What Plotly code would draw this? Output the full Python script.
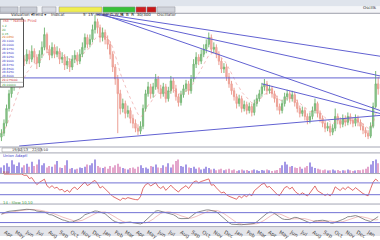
import pandas as pd
import plotly.graph_objects as go

# ---------------- data ----------------
dates = pd.date_range("2010-03-22", periods=150, freq="W-MON")

opens = [20.5,20.9,21.9,23.4,24.9,25.6,26.4,27.2,27.9,28.4,
         28.2,28.9,28.4,29.2,28.6,28.0,28.9,29.6,30.9,29.4,
         28.8,29.6,28.9,29.2,28.4,28.6,27.8,28.2,27.6,28.4,
         28.8,28.2,28.9,29.6,30.6,29.9,30.4,31.4,32.2,31.6,
         30.6,31.1,30.4,29.9,28.9,27.6,26.4,24.9,23.4,23.9,
         22.9,23.2,22.4,21.9,21.4,21.1,21.6,23.4,24.9,25.6,
         24.9,25.6,26.4,25.4,24.9,25.6,24.4,25.2,26.2,25.4,
         24.6,24.0,24.8,25.4,25.9,25.2,26.4,27.9,28.6,28.2,
         28.9,29.4,29.9,30.6,29.4,29.6,28.9,28.2,27.4,27.6,
         26.6,25.9,25.2,24.6,23.9,24.4,23.4,23.8,23.2,23.6,
         23.0,23.9,24.4,24.9,25.6,25.9,25.2,25.4,24.9,24.4,
         23.6,23.2,23.9,24.6,24.9,24.4,24.8,24.0,23.4,22.9,
         23.2,22.6,22.2,22.6,23.2,23.9,22.9,22.4,21.9,21.4,
         21.6,21.0,21.4,22.6,22.2,21.8,22.4,22.0,22.6,22.2,
         21.9,22.4,22.0,21.6,21.2,20.9,20.6,21.6,23.6,25.9]

closes = [20.9,21.9,23.4,24.9,25.6,26.4,27.2,27.9,28.4,28.2,
          28.9,28.4,29.2,28.6,28.0,28.9,29.6,30.9,29.4,28.8,
          29.6,28.9,29.2,28.4,28.6,27.8,28.2,27.6,28.4,28.8,
          28.2,28.9,29.6,30.6,29.9,30.4,31.4,32.2,31.6,30.6,
          31.1,30.4,29.9,28.9,27.6,26.4,24.9,23.4,23.9,22.9,
          23.2,22.4,21.9,21.4,21.1,21.6,23.4,24.9,25.6,24.9,
          25.6,26.4,25.4,24.9,25.6,24.4,25.2,26.2,25.4,24.6,
          24.0,24.8,25.4,25.9,25.2,26.4,27.9,28.6,28.2,28.9,
          29.4,29.9,30.6,29.4,29.6,28.9,28.2,27.4,27.6,26.6,
          25.9,25.2,24.6,23.9,24.4,23.4,23.8,23.2,23.6,23.0,
          23.9,24.4,24.9,25.6,25.9,25.2,25.4,24.9,24.4,23.6,
          23.2,23.9,24.6,24.9,24.4,24.8,24.0,23.4,22.9,23.2,
          22.6,22.2,22.6,23.2,23.9,22.9,22.4,21.9,21.4,21.6,
          21.0,21.4,22.6,22.2,21.8,22.4,22.0,22.6,22.2,21.9,
          22.4,22.0,21.6,21.2,20.9,20.6,21.6,23.6,25.9,25.4]

highs = [21.3,22.3,23.8,25.3,26.2,26.9,27.6,28.4,28.9,28.8,
         29.4,29.3,29.8,29.5,28.9,29.3,30.2,31.6,31.1,29.8,
         30.1,29.9,29.7,29.5,29.1,28.9,28.7,28.5,28.8,29.3,
         29.1,29.4,30.1,31.0,30.9,30.9,31.9,32.9,32.5,31.9,
         31.6,31.4,30.8,30.2,29.2,27.9,26.8,25.3,24.4,24.2,
         23.7,23.5,22.8,22.3,21.8,22.1,23.8,25.3,26.1,25.9,
         26.0,26.9,26.7,25.8,26.0,25.9,25.6,26.7,26.5,25.8,
         24.9,25.2,25.8,26.3,26.2,26.8,28.4,29.1,28.9,29.4,
         29.9,30.4,31.1,30.9,30.1,29.9,29.2,28.5,28.0,27.9,
         27.0,26.2,25.5,24.9,24.8,24.7,24.2,24.1,24.0,23.9,
         24.3,24.8,25.3,26.0,26.4,26.2,25.8,25.7,25.2,24.7,
         23.9,24.3,25.0,25.3,25.2,25.2,25.1,24.3,23.7,23.6,
         23.5,22.9,23.0,23.6,24.4,24.1,23.2,22.7,22.2,22.0,
         21.9,21.8,23.4,22.9,22.5,22.8,22.7,23.0,22.9,22.5,
         22.8,22.7,22.3,21.9,21.5,21.2,22.0,24.0,27.2,26.6]

lows = [20.1,20.6,21.6,23.1,24.5,25.2,26.0,26.8,27.5,27.7,
        27.9,27.9,28.1,28.0,27.4,27.6,28.5,29.3,29.0,28.3,
        28.5,28.5,28.6,27.9,28.0,27.3,27.4,27.1,27.3,28.0,
        27.8,27.9,28.6,29.3,29.5,29.6,30.1,31.0,31.0,30.1,
        30.2,29.9,29.4,28.4,27.1,25.8,20.9,22.8,23.0,22.4,
        22.5,21.9,21.4,21.0,20.7,20.8,21.3,23.1,24.6,24.4,
        24.5,25.3,25.0,24.4,24.6,24.0,24.1,24.9,25.0,24.2,
        23.6,23.7,24.5,25.1,24.8,24.9,26.1,27.5,27.8,27.9,
        28.6,29.0,29.6,29.0,29.0,28.5,27.8,27.0,27.0,26.2,
        25.5,24.8,24.2,23.4,23.6,23.0,23.1,22.8,22.9,22.6,
        22.7,23.6,24.1,24.6,25.2,24.8,24.9,24.5,24.0,23.2,
        22.8,22.9,23.6,24.2,24.0,24.1,23.6,23.0,22.5,22.6,
        22.2,21.8,21.9,22.3,22.9,22.5,22.0,21.5,21.0,21.1,
        20.6,20.7,21.1,21.8,21.4,21.5,21.6,21.7,21.8,21.5,
        21.6,21.6,21.2,20.8,20.5,20.3,20.4,21.4,23.4,24.8]

volumes = [40,55,70,45,90,60,50,75,40,55,
           65,45,80,50,60,95,55,70,40,50,
           45,60,85,40,35,55,90,30,35,25,
           30,40,35,45,60,55,70,95,50,40,
           35,45,30,50,40,55,65,45,35,30,
           25,35,40,30,45,55,35,40,30,50,
           45,60,40,35,55,45,70,40,60,85,
           95,50,45,60,40,35,45,30,40,25,
           30,45,35,25,30,20,25,30,20,25,
           30,20,25,15,20,25,18,22,15,20,
           25,20,15,22,18,25,20,15,18,22,
           35,55,80,60,45,50,40,35,45,30,
           40,50,75,45,35,30,25,20,25,18,
           20,25,18,22,15,20,18,25,20,15,
           18,22,20,25,30,45,60,85,95,70]

# trend lines: (start week index, start price, end week index, end price)
trend_lines = [
    (37, 33.1, 149, 28.7),
    (37, 33.0, 149, 26.7),
    (37, 33.2, 149, 23.2),
    (103, 25.9, 149, 22.9),
    (7, 19.6, 149, 22.7),
    (9, 26.5, 149, 26.5),
]

book_rows = ["1.2", "20", "0.15", "29.0850", "29.1000", "29.0000", "28.9750",
             "28.9500", "28.9250", "28.9000", "28.8750", "28.8500", "28.8250",
             "28.8000"]
book_colors = ["#3a9a3a"] * 3 + ["#e07020"] + ["#3c3cc8"] * 10
book_last = [("29.075000", "#d03030", 81.4), ("29.00000", "#3a9a3a", 86.0)]

toolbar_items = [("Valuation ▾", 0, 18, "#c9cdd6", "#333"),
                 ("Trend ▾", 20, 37, "#c9cdd6", "#333"),
                 ("Indicat", 42, 56, "#d8dbe2", "#333"),
                 ("5' 15' 30' 60' D,W,M", 59, 102, "#f0ee50", "#333"),
                 ("S  B  R  30/300", 103, 135, "#38c038", "#102010"),
                 ("", 136, 146, "#d02020", "#fff"),
                 ("", 147, 156, "#c81818", "#fff"),
                 ("Oscillator", 157, 175, "#d0d3da", "#333")]

# ---------------- indicators ----------------
s_close = pd.Series(closes)
s_high = pd.Series(highs)
s_low = pd.Series(lows)
ema = s_close.ewm(span=8, adjust=False).mean()
delta = s_close.diff()
gain = delta.clip(lower=0).ewm(alpha=1 / 6, adjust=False).mean()
loss = (-delta.clip(upper=0)).ewm(alpha=1 / 6, adjust=False).mean()
rsi = 100 - 100 / (1 + gain / loss.replace(0, 1e-9))
ll = s_low.rolling(10, min_periods=1).min()
hh = s_high.rolling(10, min_periods=1).max()
fast_k = 100 * (s_close - ll) / (hh - ll)
slow_k = fast_k.rolling(6, min_periods=1).mean()
slow_d = slow_k.rolling(6, min_periods=1).mean()


def px(x):
    return x / 380.0


def py(y):
    return 1 - y / 240.0


fig = go.Figure()

fig.add_trace(go.Candlestick(
    x=dates, open=opens, high=highs, low=lows, close=closes,
    increasing=dict(line=dict(color="#78b878", width=1), fillcolor="#9ccc9c"),
    decreasing=dict(line=dict(color="#ec9f94", width=1), fillcolor="#f4b8ae"),
    whiskerwidth=0, xaxis="x", yaxis="y", showlegend=False))

fig.add_trace(go.Scatter(x=dates, y=ema, mode="lines",
                         line=dict(color="rgba(230,130,130,0.5)", width=1, dash="dot"),
                         xaxis="x", yaxis="y", showlegend=False))

for (i0, p0, i1, p1) in trend_lines:
    fig.add_trace(go.Scatter(x=[dates[i0], dates[i1] + pd.Timedelta(days=5)], y=[p0, p1],
                             mode="lines", line=dict(color="#6262d2", width=1),
                             xaxis="x", yaxis="y", showlegend=False))

vol_colors = ["#a498e6" if c >= o else "#e4a6cc" for o, c in zip(opens, closes)]
fig.add_trace(go.Bar(x=dates, y=volumes, marker=dict(color=vol_colors, line=dict(width=0)),
                     width=0.4 * 7 * 24 * 3600 * 1000, xaxis="x", yaxis="y2", showlegend=False))

fig.add_trace(go.Scatter(x=dates, y=rsi, mode="lines", line=dict(color="#d84848", width=0.8),
                         xaxis="x", yaxis="y3", showlegend=False))
fig.add_trace(go.Scatter(x=dates, y=slow_d, mode="lines", line=dict(color="rgba(225,140,140,0.7)", width=0.8),
                         xaxis="x", yaxis="y4", showlegend=False))
fig.add_trace(go.Scatter(x=dates, y=slow_k, mode="lines", line=dict(color="#707070", width=0.8),
                         xaxis="x", yaxis="y4", showlegend=False))

shapes = []
ann = []
font = "DejaVu Sans"

# toolbar
shapes.append(dict(type="rect", xref="paper", yref="paper", x0=0, x1=1, y0=py(6.5), y1=1,
                   fillcolor="#dfe4ec", line=dict(width=0), layer="above"))
shapes.append(dict(type="rect", xref="paper", yref="paper", x0=0, x1=1, y0=py(13), y1=py(6.5),
                   fillcolor="#f4f5f8", line=dict(width=0), layer="above"))
shapes.append(dict(type="line", xref="paper", yref="paper", x0=0, x1=1, y0=py(13.5), y1=py(13.5),
                   line=dict(color="#9a9ca8", width=1), layer="above"))
for text, a, b, bg, fg in toolbar_items:
    shapes.append(dict(type="rect", xref="paper", yref="paper", x0=px(a), x1=px(b), y0=py(12.5), y1=py(7),
                       fillcolor=bg, line=dict(color="#8a8c96", width=0.5), layer="above"))
    if text:
        ann.append(dict(text=text, x=px((a + b) / 2), y=py(9.8), xref="paper", yref="paper",
                        showarrow=False, font=dict(size=4, color=fg, family=font)))
ann.append(dict(text="Oscillk", x=px(379), y=py(3), xref="paper", yref="paper", xanchor="right",
                showarrow=False, font=dict(size=4, color="#333", family=font)))

# order book box
ann.append(dict(text="ISE - Nation Prod", x=px(1), y=py(16.5), xref="paper", yref="paper", xanchor="left",
                showarrow=False, font=dict(size=4, color="#e06060", family=font)))
shapes.append(dict(type="rect", xref="paper", yref="paper", x0=px(0), x1=px(23.5), y0=py(88.5), y1=py(19.5),
                   fillcolor="white", line=dict(color="#555", width=1), layer="above"))
shapes.append(dict(type="line", xref="paper", yref="paper", x0=px(22), x1=px(22), y0=py(19.5), y1=py(17.5),
                   line=dict(color="#555", width=1), layer="above"))
for k, (t, col) in enumerate(zip(book_rows, book_colors)):
    yy = 23.2 + k * 3.95
    ann.append(dict(text=t, x=px(1), y=py(yy), xref="paper", yref="paper", xanchor="left",
                    borderpad=0, showarrow=False, font=dict(size=2.9, color=col, family=font)))
for t, col, yy in book_last:
    ann.append(dict(text=t, x=px(1), y=py(yy), xref="paper", yref="paper", xanchor="left",
                    borderpad=0, showarrow=False, font=dict(size=2.9, color=col, family=font)))
for yy in (78.8, 83.7):
    shapes.append(dict(type="line", xref="paper", yref="paper", x0=0, x1=px(23.5), y0=py(yy), y1=py(yy),
                       line=dict(color="#777", width=0.5), layer="above"))

# panel separators
for yy in (149.5, 155.5, 176.5, 207.5, 230.5):
    shapes.append(dict(type="line", xref="paper", yref="paper", x0=0, x1=1, y0=py(yy), y1=py(yy),
                       line=dict(color="#a4a6b4", width=1), layer="above"))

# date range boxes
for text, a, b in (("19/02/13", 2, 19), ("22/03/10", 21, 41)):
    shapes.append(dict(type="rect", xref="paper", yref="paper", x0=px(a), x1=px(b), y0=py(154.5), y1=py(150.5),
                       fillcolor="white", line=dict(color="#888", width=0.5), layer="above"))
    ann.append(dict(text=text, x=px((a + b) / 2), y=py(152.5), xref="paper", yref="paper",
                    borderpad=0, showarrow=False, font=dict(size=3.6, color="#333", family=font)))

ann.append(dict(text="Union Adaptl", x=px(1), y=py(158.5), xref="paper", yref="paper", xanchor="left",
                showarrow=False, font=dict(size=3.8, color="#3c3cc8", family=font)))
ann.append(dict(text="RSI", x=px(1), y=py(180.5), xref="paper", yref="paper", xanchor="left",
                showarrow=False, font=dict(size=3.8, color="#d04040", family=font)))
ann.append(dict(text="14 - Slow 10,10", x=px(1), y=py(211), xref="paper", yref="paper", xanchor="left",
                showarrow=False, font=dict(size=3.8, color="#3a9a3a", family=font)))

# reference lines
for lvl in (70, 30):
    shapes.append(dict(type="line", xref="paper", yref="y3", x0=0, x1=1, y0=lvl, y1=lvl,
                       line=dict(color="#7272d4", width=1)))
for lvl in (75, 20):
    shapes.append(dict(type="line", xref="paper", yref="y4", x0=0, x1=1, y0=lvl, y1=lvl,
                       line=dict(color="#7272d4", width=1)))

# bottom date strip
shapes.append(dict(type="rect", xref="paper", yref="paper", x0=0, x1=1, y0=0, y1=py(231),
                   fillcolor="#e4e5ea", line=dict(width=0), layer="below"))

ax_common = dict(showgrid=False, zeroline=False, showticklabels=False, ticks="", showline=False,
                 fixedrange=True)
fig.update_layout(
    width=380, height=240, margin=dict(l=0, r=0, t=0, b=0),
    paper_bgcolor="white", plot_bgcolor="white", showlegend=False,
    font=dict(family=font),
    xaxis=dict(domain=[0, 1], anchor="free", position=py(231.5),
               range=[dates[0] - pd.Timedelta(days=4), dates[-1] + pd.Timedelta(days=5)],
               rangeslider=dict(visible=False), showgrid=False, zeroline=False, showline=False,
               ticks="", tickformat="%b", dtick="M1", tickfont=dict(size=5, color="#444"),
               fixedrange=True),
    yaxis=dict(domain=[py(149.5), py(14)], range=[19.5, 33.0], **ax_common),
    yaxis2=dict(domain=[py(176), py(158)], range=[0, 125], **ax_common),
    yaxis3=dict(domain=[py(207), py(177)], range=[0, 100], **ax_common),
    yaxis4=dict(domain=[py(230), py(208)], range=[0, 120], **ax_common),
    shapes=shapes, annotations=ann,
)

fig.write_html("out.html")
